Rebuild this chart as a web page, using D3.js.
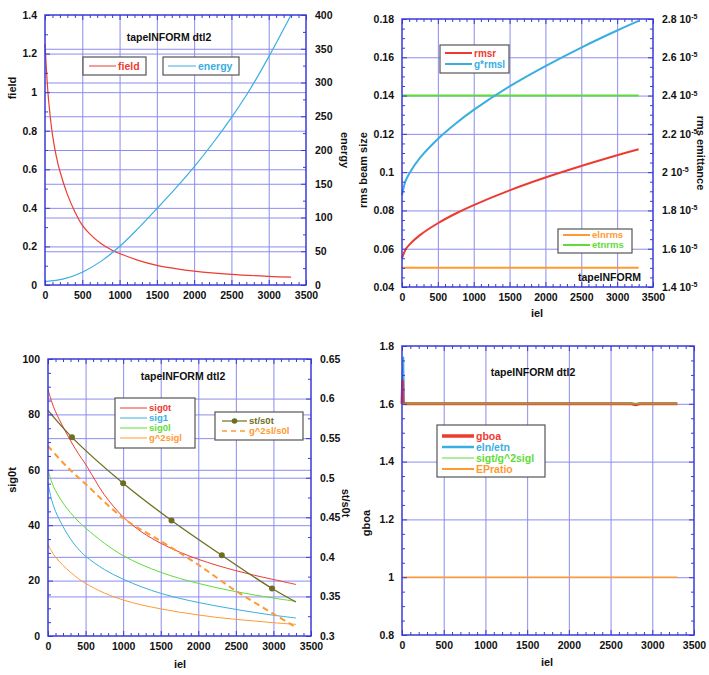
<!DOCTYPE html>
<html><head><meta charset="utf-8">
<script src="https://cdn.jsdelivr.net/npm/d3@7"></script>
<style>
body{margin:0;background:#fff;}
text{font-family:"Liberation Sans",Arial,Helvetica,sans-serif;font-weight:bold;}
</style></head>
<body>
<script>
// ---------- DATA ----------
const xTickVals = [0,500,1000,1500,2000,2500,3000,3500];

// Panel 1 (field / energy)
const ielField = [0,25,50,100,150,200,300,400,500,600,750,900,1000,1250,1500,1750,2000,2500,3000,3300];
const field    = [1.25,1.08,0.95,0.78,0.67,0.59,0.47,0.38,0.31,0.265,0.215,0.18,0.163,0.128,0.102,0.085,0.072,0.055,0.045,0.041];
const ielEnergy = [0,250,500,750,1000,1250,1500,1750,2000,2250,2500,2750,3000,3300];
const energy    = [5,9,19,35,57,84,113,143,175,210,248,290,338,400];

// Panel 2 (rms beam size / emittance)
const ielRms = [0,50,100,250,500,750,1000,1500,2000,2500,3000,3300];
const rmsr   = [0.055,0.0596,0.062,0.0671,0.0733,0.0784,0.0828,0.0905,0.0972,0.1032,0.1088,0.112];
const gRmsl  = [0.088,0.0954,0.0992,0.1074,0.1173,0.1254,0.1325,0.1448,0.1554,0.1651,0.1740,0.179];
const ielEmit = [0,3300];
const elnrms  = [1.5e-5,1.5e-5];
const etnrms  = [2.4e-5,2.4e-5];

// Panel 3 (sigmas)
const ielSig = [0,50,100,200,300,400,500,750,1000,1250,1500,1750,2000,2250,2500,2750,3000,3300];
const sig0t  = [89,84.5,81,75.5,70.5,66,62,51,43,37.5,33.5,30.3,27.7,25.5,23.6,21.9,20.4,18.6];
const sig1   = [55,49,45,39.5,35,31.5,28.8,24,20.5,17.7,15.4,13.6,12.1,10.8,9.6,8.5,7.5,6.5];
const sig0l  = [60,55.5,52.5,48,44.5,41.5,39,33.5,29,25.7,23,20.8,19,17.4,16,14.8,13.7,12.5];
const g2sigl = [33,30.5,28.5,25.5,23,20.8,19,15.5,13,11.2,9.8,8.6,7.6,6.7,6,5.4,4.8,4.2];
const ielRatio = [0,319,1000,1644,2313,2982,3300];
const stS0t    = [0.585,0.551,0.493,0.446,0.402,0.360,0.343];
const ielMarkers = [319,1000,1644,2313,2982];
const stS0tMarkers = [0.551,0.493,0.446,0.402,0.360];
const ielG2 = [0,250,500,1000,1500,2000,2500,3000,3300];
const g2slS0l = [0.540,0.514,0.492,0.449,0.420,0.390,0.357,0.328,0.311];

// Panel 4 (ratios)
const ielGboa = [0,8,12,20,2750,2800,2850,3300];
const gboa    = [1.6,1.68,1.61,1.6,1.6,1.597,1.6,1.6];
const ielEln  = [0,15,22,30,3300];
const elnEtn  = [1.6,1.76,1.61,1.6,1.6];
const ielSigt = [0,3300];
const sigtG2  = [1.6,1.6];
const ielEP   = [0,3300];
const epRatio = [1.0,1.0];

// ---------- DRAWING ----------
const C = {red:"#ee3b30", blue:"#3aaee0", green:"#5fdc3a", orange:"#ff9a33", olive:"#6e6e22",
  frame:"#3a3ad8", grid:"#8c8cee", tick:"#3a3ad8"};
const svg = d3.select("body").append("svg").attr("width",709).attr("height",675);
const fmt = v => String(+v.toFixed(3));

function panel(o){
  const x  = d3.scaleLinear().domain([0,3500]).range([o.x0,o.x1]);
  const yl = d3.scaleLinear().domain(o.ylDom).range([o.y1,o.y0]);
  const yr = d3.scaleLinear().domain(o.yrDom||o.ylDom).range([o.y1,o.y0]);
  const w = o.x1-o.x0, h = o.y1-o.y0;
  const g = svg.append("g");
  const grid = g.append("g");
  function styleGrid(s){ s.select(".domain").remove(); s.selectAll("line").attr("stroke",C.grid).attr("stroke-width",1); }
  grid.append("g").attr("transform",`translate(0,${o.y1})`)
    .call(d3.axisBottom(x).tickValues(xTickVals.slice(1,-1)).tickSize(-h).tickFormat("")).call(styleGrid);
  grid.append("g").attr("transform",`translate(${o.x0},0)`)
    .call(d3.axisLeft(yl).tickValues(o.ylTicks.slice(1,-1)).tickSize(-w).tickFormat("")).call(styleGrid);
  if(o.rightGrid) grid.append("g").attr("transform",`translate(${o.x1},0)`)
    .call(d3.axisRight(yr).tickValues(o.yrTicks.slice(1,-1)).tickSize(-w).tickFormat("")).call(styleGrid);
  const plot = g.append("g");
  const axes = g.append("g");
  function styleAx(s){ s.select(".domain").remove(); s.selectAll("line").attr("stroke",C.tick).attr("stroke-width",1);
    s.selectAll("text").attr("fill","#111").style("font-size","10.5px"); }
  const minorX = d3.range(100,3500,100).filter(v=>v%500);
  // bottom
  axes.append("g").attr("transform",`translate(0,${o.y1})`)
    .call(d3.axisBottom(x).tickValues(xTickVals).tickSizeInner(-5).tickSizeOuter(0).tickPadding(7).tickFormat(fmt)).call(styleAx);
  axes.append("g").attr("transform",`translate(0,${o.y1})`)
    .call(d3.axisBottom(x).tickValues(minorX).tickSize(-3).tickFormat("")).call(styleAx);
  axes.append("g").attr("transform",`translate(0,${o.y0})`)
    .call(d3.axisTop(x).tickValues(xTickVals).tickSize(-5).tickFormat("")).call(styleAx);
  axes.append("g").attr("transform",`translate(0,${o.y0})`)
    .call(d3.axisTop(x).tickValues(minorX).tickSize(-3).tickFormat("")).call(styleAx);
  // left
  axes.append("g").attr("transform",`translate(${o.x0},0)`)
    .call(d3.axisLeft(yl).tickValues(o.ylTicks).tickSizeInner(-5).tickSizeOuter(0).tickPadding(8).tickFormat(fmt)).call(styleAx);
  axes.append("g").attr("transform",`translate(${o.x0},0)`)
    .call(d3.axisLeft(yl).tickValues(o.ylMinor).tickSize(-3).tickFormat("")).call(styleAx);
  // right
  const rAx = d3.axisRight(yr).tickValues(o.yrTicks||o.ylTicks).tickSizeInner(-5).tickSizeOuter(0).tickPadding(9);
  if(!o.yrTicks) rAx.tickFormat("");
  else rAx.tickFormat(fmt);
  const ra = axes.append("g").attr("transform",`translate(${o.x1},0)`).call(rAx).call(styleAx);
  if(o.sup){
    ra.selectAll(".tick text").each(function(d){
      const t = d3.select(this); t.text(null);
      t.append("tspan").text(`${+(d*1e5).toFixed(1)} 10`);
      t.append("tspan").attr("dy","-0.55em").style("font-size","7px").text("-5");
    });
  }
  axes.append("g").attr("transform",`translate(${o.x1},0)`)
    .call(d3.axisRight(yr).tickValues(o.yrMinor||o.ylMinor).tickSize(-3).tickFormat("")).call(styleAx);
  // frame
  g.append("rect").attr("x",o.x0).attr("y",o.y0).attr("width",w).attr("height",h)
    .attr("fill","none").attr("stroke",C.frame).attr("stroke-width",1.5);
  return {x,yl,yr,plot,g};
}

function drawLine(p, xs, ys, ysc, color, width, dash, straight){
  const pts = xs.map((v,i)=>[v,ys[i]]);
  const line = d3.line().x(d=>p.x(d[0])).y(d=>ysc(d[1]))
    .curve(straight ? d3.curveLinear : d3.curveCatmullRom.alpha(0.5));
  p.plot.append("path").datum(pts).attr("d",line).attr("fill","none")
    .attr("stroke",color).attr("stroke-width",width).attr("stroke-dasharray",dash||null)
    .attr("stroke-linejoin","round");
}
function label(x,y,txt,opt={}){
  const t = svg.append("text").attr("x",x).attr("y",y).text(txt)
    .style("font-size",(opt.size||11)+"px").attr("fill",opt.fill||"#111")
    .attr("text-anchor",opt.anchor||"middle");
  if(opt.rot) t.attr("transform",`rotate(${opt.rot},${x},${y})`);
  if(opt.clip) t.attr("clip-path",opt.clip);
  return t;
}
function legendBox(x,y,w,h){
  svg.append("rect").attr("x",x).attr("y",y).attr("width",w).attr("height",h)
    .attr("fill","#fff").attr("stroke","#555").attr("stroke-width",1.2);
}
function legendEntry(x1,x2,y,color,width,txt,opt={}){
  svg.append("line").attr("x1",x1).attr("x2",x2).attr("y1",y).attr("y2",y)
    .attr("stroke",color).attr("stroke-width",width).attr("stroke-dasharray",opt.dash||null);
  if(opt.marker) svg.append("circle").attr("cx",(x1+x2)/2).attr("cy",y).attr("r",2.8).attr("fill",color);
  const s = opt.size||10.5;
  svg.append("text").attr("x",x2+2).attr("y",y+s*0.36).text(txt).attr("fill",opt.tc||color)
    .style("font-size",s+"px");
}

// ===== Panel 1 =====
const p1 = panel({x0:45,x1:306,y0:15,y1:285, ylDom:[0,1.4], ylTicks:d3.range(0,1.41,0.2), ylMinor:d3.range(0.1,1.4,0.2),
  yrDom:[0,400], yrTicks:d3.range(0,401,50), yrMinor:d3.range(25,400,50), rightGrid:true});
drawLine(p1, ielField, field, p1.yl, C.red, 1.2);
drawLine(p1, ielEnergy, energy, p1.yr, C.blue, 1.2);
label(169,41,"tapeINFORM dtl2",{size:10.5});
legendBox(83,57,63,18); legendEntry(89,116,66,C.red,1,"field");
legendBox(163,57,76,18); legendEntry(168,196,66,C.blue,1,"energy");
label(16,88,"field",{rot:-90});
label(341,150,"energy",{rot:90});
svg.append("clipPath").attr("id","c1").append("rect").attr("x",0).attr("y",0).attr("width",340).attr("height",309);
label(176,317,"iel",{clip:"url(#c1)"});

// ===== Panel 2 =====
const p2 = panel({x0:402,x1:653,y0:19,y1:287, ylDom:[0.04,0.18], ylTicks:d3.range(0.04,0.1801,0.02), ylMinor:d3.range(0.045,0.18,0.005).filter((v,i)=>i%4!==3),
  yrDom:[1.4e-5,2.8e-5], yrTicks:d3.range(1.4e-5,2.801e-5,0.2e-5), yrMinor:d3.range(1.45e-5,2.8e-5,0.05e-5).filter((v,i)=>i%4!==3), sup:true});
drawLine(p2, ielEmit, elnrms, p2.yr, C.orange, 2, null, true);
drawLine(p2, ielEmit, etnrms, p2.yr, C.green, 2, null, true);
drawLine(p2, ielRms, rmsr, p2.yl, C.red, 2);
drawLine(p2, ielRms, gRmsl, p2.yl, C.blue, 2);
legendBox(440,45,69,28); legendEntry(445,472,53,C.red,2,"rmsr",{size:10}); legendEntry(445,472,64,C.blue,2,"g*rmsl",{size:10});
legendBox(558,229,74,24); legendEntry(563,590,235,C.orange,2,"elnrms",{size:9.5}); legendEntry(563,590,245,C.green,2,"etnrms",{size:9.5});
label(641,281,"tapeINFORM",{anchor:"end",size:10.5});
label(367,170,"rms beam size",{rot:-90});
label(697,153,"rms emittance",{rot:90});
label(537,317,"iel");

// ===== Panel 3 =====
const p3 = panel({x0:48,x1:311,y0:359,y1:636, ylDom:[0,100], ylTicks:d3.range(0,101,20), ylMinor:d3.range(5,100,5).filter(v=>v%20),
  yrDom:[0.3,0.65], yrTicks:d3.range(0.3,0.651,0.05), yrMinor:d3.range(0.325,0.65,0.05), rightGrid:true});
drawLine(p3, ielSig, sig0t, p3.yl, C.red, 1);
drawLine(p3, ielSig, sig1, p3.yl, C.blue, 1);
drawLine(p3, ielSig, sig0l, p3.yl, C.green, 1);
drawLine(p3, ielSig, g2sigl, p3.yl, C.orange, 1);
drawLine(p3, ielG2, g2slS0l, p3.yr, C.orange, 2, "6,4");
drawLine(p3, ielRatio, stS0t, p3.yr, C.olive, 1.3);
p3.plot.selectAll("circle.m").data(ielMarkers.map((v,i)=>[v,stS0tMarkers[i]])).enter().append("circle")
  .attr("cx",d=>p3.x(d[0])).attr("cy",d=>p3.yr(d[1])).attr("r",3).attr("fill",C.olive);
label(183,380,"tapeINFORM dtl2",{size:10.5});
legendBox(115,398,80,50);
legendEntry(120,147,408,C.red,1,"sig0t",{size:9.5}); legendEntry(120,147,418,C.blue,1,"sig1",{size:9.5});
legendEntry(120,147,428,C.green,1,"sig0l",{size:9.5}); legendEntry(120,147,438,C.orange,1,"g^2sigl",{size:9.5});
legendBox(215,412,88,28);
legendEntry(222,247,421,C.olive,1.2,"st/s0t",{marker:true,size:9.5});
legendEntry(222,247,431,C.orange,1.5,"g^2sl/s0l",{dash:"5,4",size:9.5});
label(16,480,"sig0t",{rot:-90});
label(342,503,"st/s0t",{rot:90});
label(180,668,"iel");

// ===== Panel 4 =====
const p4 = panel({x0:402,x1:694,y0:346,y1:635, ylDom:[0.8,1.8], ylTicks:d3.range(0.8,1.801,0.2), ylMinor:d3.range(0.85,1.8,0.05).filter((v,i)=>i%4!==3)});
drawLine(p4, ielEP, epRatio, p4.yl, C.orange, 1.5, null, true);
drawLine(p4, ielEln, elnEtn, p4.yl, C.blue, 2, null, true);
drawLine(p4, ielGboa, gboa, p4.yl, C.red, 3, null, true);
drawLine(p4, ielSigt, sigtG2, p4.yl, C.green, 1, null, true);
label(533,376,"tapeINFORM dtl2",{size:10.5});
legendBox(437,425,108,52);
legendEntry(442,474,436,C.red,3.5,"gboa",{size:10.5});
legendEntry(442,474,447,C.blue,2.5,"eln/etn",{size:10.5});
legendEntry(442,474,458,C.green,1,"sigt/g^2sigl",{size:10.5});
legendEntry(442,474,469,C.orange,2,"EPratio",{size:10.5});
label(370,523,"gboa",{rot:-90});
label(547,666,"iel");
</script>
</body></html>
